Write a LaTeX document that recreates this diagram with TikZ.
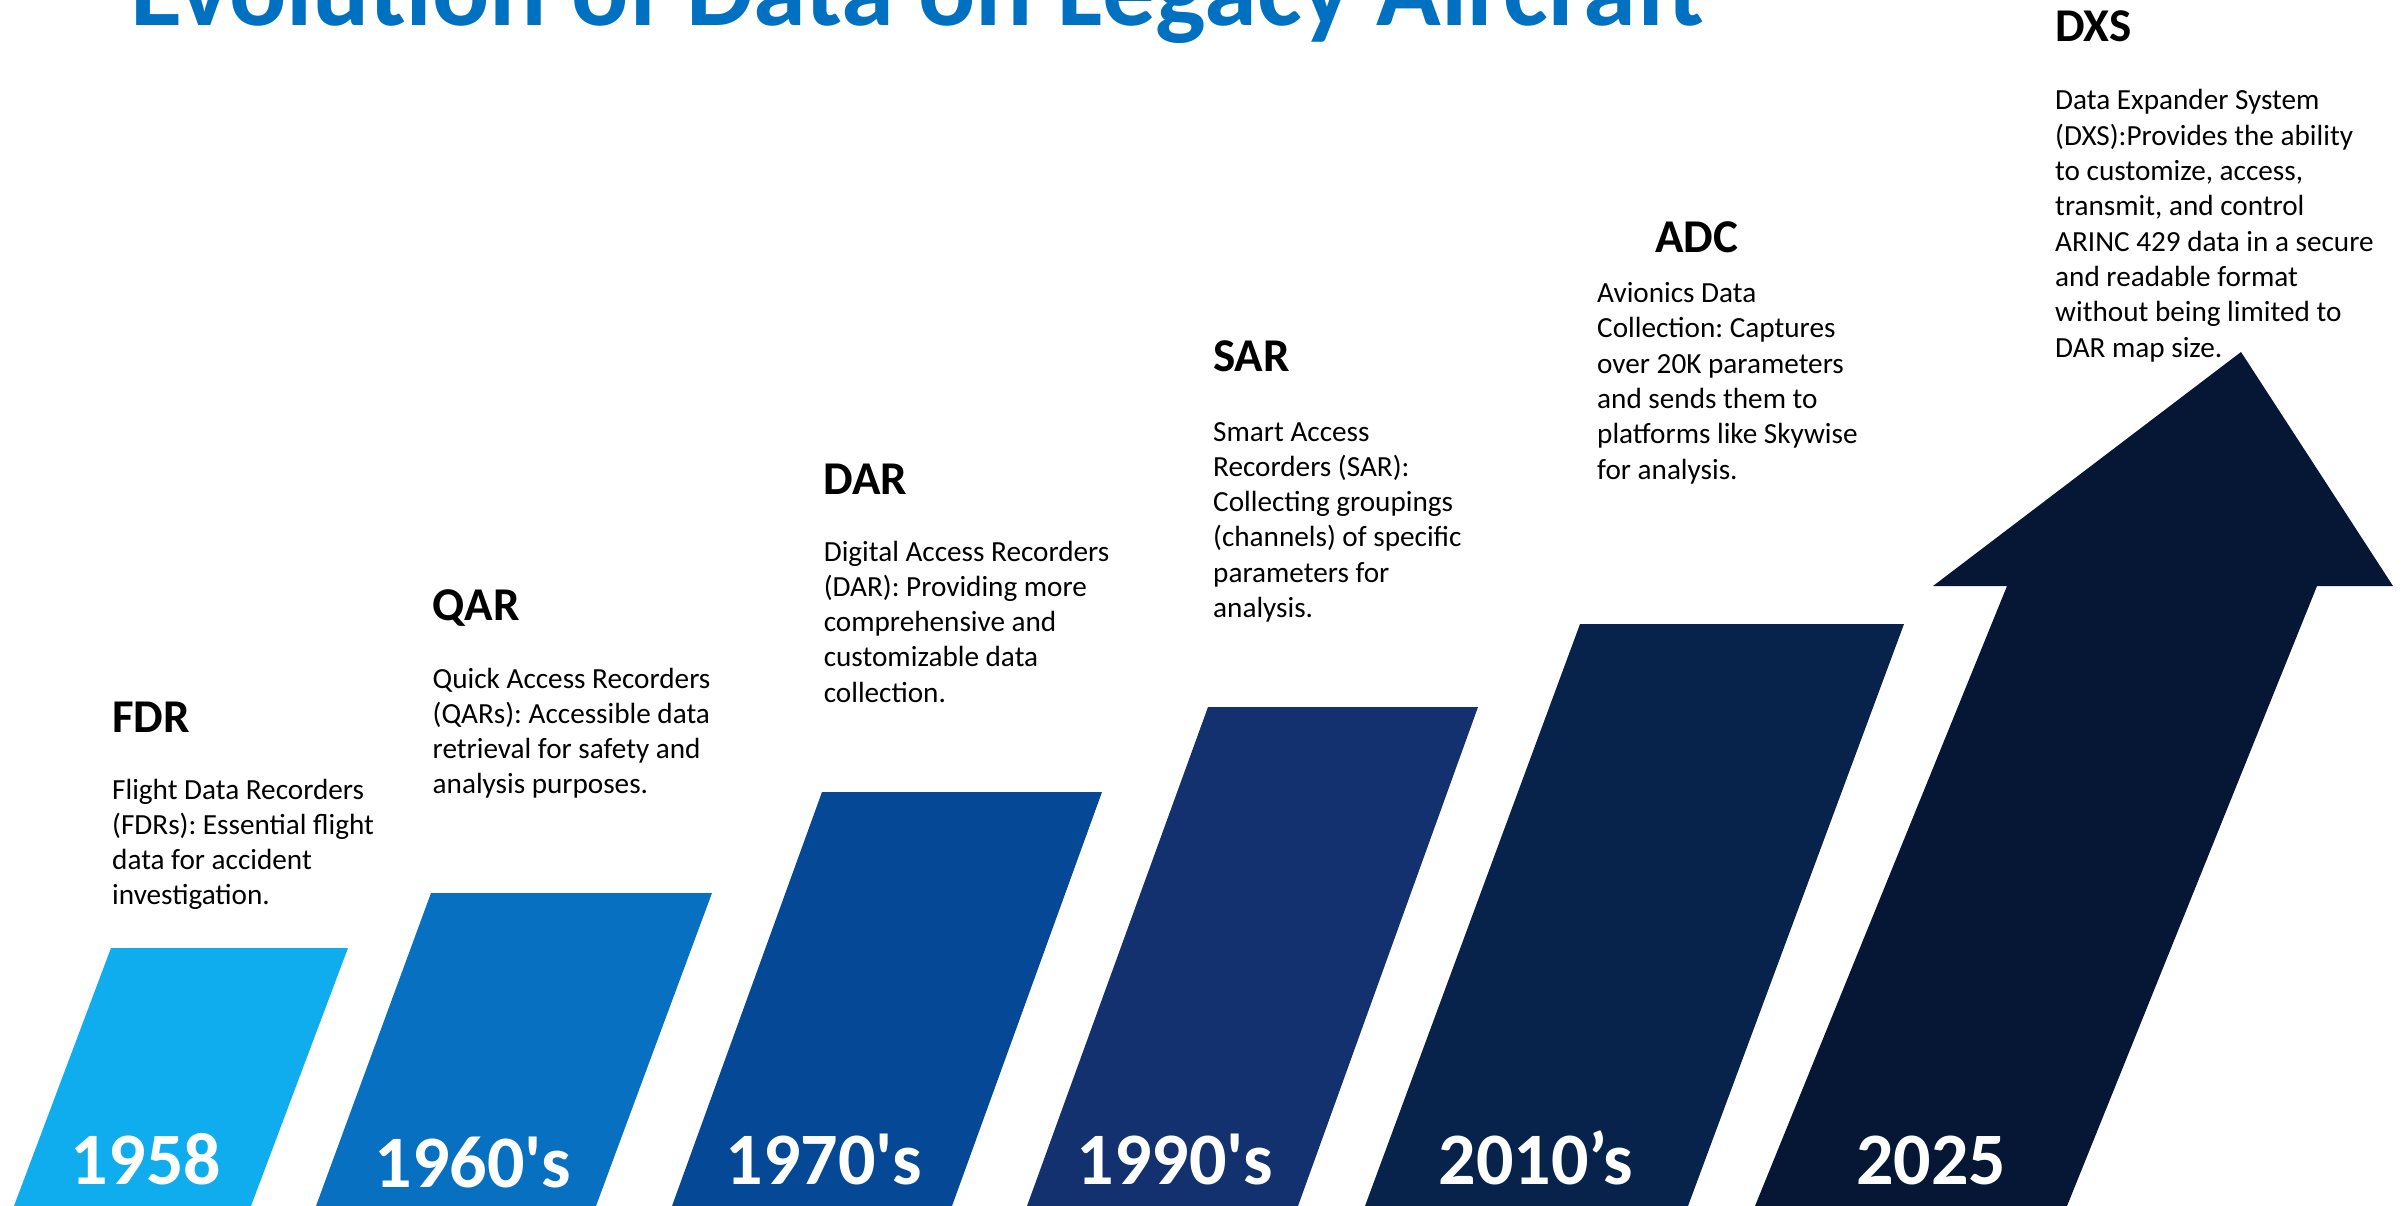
\documentclass[tikz,border=0pt]{standalone}
\usepackage{fontspec}
\setmainfont{Carlito}
\newfontfamily\yearfont{Carlito}
\frenchspacing
\definecolor{cbarA}{RGB}{15,173,238}
\definecolor{cbarB}{RGB}{7,112,192}
\definecolor{cbarC}{RGB}{4,72,150}
\definecolor{cbarD}{RGB}{19,48,111}
\definecolor{cbarE}{RGB}{8,35,75}
\definecolor{carrow}{RGB}{5,23,52}
\definecolor{ctitle}{RGB}{0,112,192}
\tikzset{
  bodytxt/.style={anchor=base west,inner sep=0pt,font=\frenchspacing\fontsize{29.2}{35}\selectfont,text=black},
  headtxt/.style={anchor=base west,inner sep=0pt,font=\bfseries\fontsize{47}{56}\selectfont,text=black},
  yeartxt/.style={anchor=base,inner sep=0pt,font=\yearfont\bfseries\fontsize{74}{88}\selectfont,text=white},
  titletxt/.style={anchor=base west,inner sep=0pt,font=\bfseries\fontsize{106.7}{120}\selectfont,text=ctitle}
}
\newcommand\mytextblock[4]{%
  \foreach \ln [count=\i] in {#4} {
    \node[bodytxt] (#1\i) at (#2,{#3+(\i-1)*35.3}) {\ln};
  }%
}
\begin{document}
\begin{tikzpicture}[x=1pt,y=-1pt]
\useasboundingbox (0,0) rectangle (2405,1206);
% title
\node[titletxt] (title) at (130,26) {Evolution of Data on Legacy Aircraft};
% bars
\fill[cbarA] (14,1206) -- (111,948) -- (348,948) -- (251,1206) -- cycle;
\fill[cbarB] (316,1206) -- (431,893) -- (712,893) -- (596,1206) -- cycle;
\fill[cbarC] (672,1206) -- (822,792) -- (1102,792) -- (952,1206) -- cycle;
\fill[cbarD] (1027,1206) -- (1208,707) -- (1478,707) -- (1298,1206) -- cycle;
\fill[cbarE] (1365,1206) -- (1580,624) -- (1904,624) -- (1688,1206) -- cycle;
\fill[carrow] (1755,1206) -- (2007,586) -- (1933,586) -- (2241,352) -- (2393,586) -- (2317,586) -- (2067,1206) -- cycle;
% years
\node[yeartxt] (y1) at (146,1184) {1958};
\node[yeartxt] (y2) at (473,1187) {1960's};
\node[yeartxt] (y3) at (824,1184) {1970's};
\node[yeartxt] (y4) at (1175,1184) {1990's};
\node[yeartxt] (y5) at (1536,1184) {2010’s};
\node[yeartxt] (y6) at (1931,1184) {2025};
% headings
\node[headtxt] (hfdr) at (112,732) {FDR};
\node[headtxt] (hqar) at (432.5,620) {QAR};
\node[headtxt] (hdar) at (823.6,494) {DAR};
\node[headtxt] (hsar) at (1213,371) {SAR};
\node[headtxt] (hadc) at (1655,253) {ADC};
\node[headtxt] (hdxs) at (2055,41.4) {DXS};
% bodies
\mytextblock{fdr}{112}{799}{Flight Data Recorders,{(FDRs): Essential flight},data for accident,investigation.}
\mytextblock{qar}{432.5}{688}{Quick Access Recorders,{(QARs): Accessible data},retrieval for safety and,analysis purposes.}
\mytextblock{dar}{823.6}{561}{Digital Access Recorders,{(DAR): Providing more},comprehensive and,customizable data,collection.}
\mytextblock{sar}{1213}{441}{Smart Access,{Recorders (SAR):},Collecting groupings,(channels) of specific,parameters for,analysis.}
\mytextblock{adc}{1597}{302.5}{Avionics Data,{Collection: Captures},over 20K parameters,and sends them to,platforms like Skywise,for analysis.}
\mytextblock{dxs}{2055}{110}{Data Expander System,{(DXS):Provides the ability},{to customize, access,},{transmit, and control},ARINC 429 data in a secure,and readable format,without being limited to,DAR map size.}
\end{tikzpicture}
\end{document}
